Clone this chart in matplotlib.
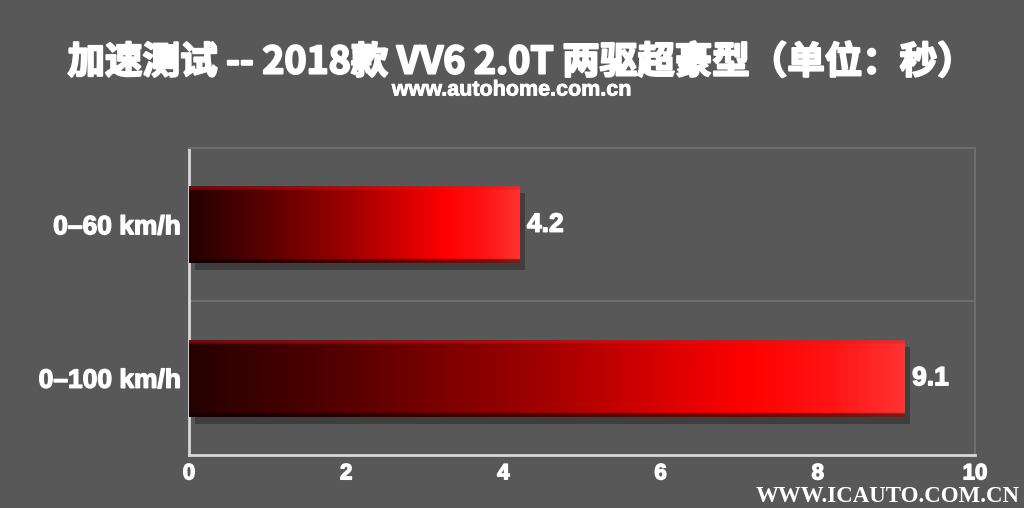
import numpy as np
import matplotlib
matplotlib.use("Agg")
import matplotlib.pyplot as plt
from matplotlib import patheffects as pe

categories = ["0–60 km/h", "0–100 km/h"]
values = [4.2, 9.1]
value_labels = ["4.2", "9.1"]
xticks = [0, 2, 4, 6, 8, 10]
title = "加速测试 -- 2018款 VV6 2.0T 两驱超豪型（单位：秒）"
subtitle = "www.autohome.com.cn"
watermark = "WWW.ICAUTO.COM.CN"

BG = "#585858"
plt.rcParams['font.family'] = ['Liberation Sans', 'DejaVu Sans']
thick = [pe.withStroke(linewidth=1.0, foreground="white")]

fig = plt.figure(figsize=(10.24, 5.08), dpi=100, facecolor=BG)
ax = fig.add_axes([189/1024, 1-455/508, (975-189)/1024, (455-148)/508])
ax.set_facecolor(BG)

pos = np.arange(len(categories))
bars = ax.barh(pos, values, height=0.5, color="#3a0000", zorder=3,
               edgecolor="none")
ax.set_ylim(len(categories)-0.5, -0.5)
ax.set_xlim(0, 10)

# gradient fill
ncol = 256
t = np.linspace(0, 1, ncol)
stops = np.array([0.0, 0.2, 0.5, 0.78, 0.9, 1.0])
rs = np.array([0.15, 0.32, 0.64, 1.0, 1.0, 1.0])
gs = np.array([0.0, 0.0, 0.0, 0.0, 0.08, 0.2])
bs = np.array([0.0, 0.0, 0.0, 0.0, 0.08, 0.2])
row = np.stack([np.interp(t, stops, rs), np.interp(t, stops, gs), np.interp(t, stops, bs)], axis=-1)
nrow = 40
img = np.repeat(row[None, :, :], nrow, axis=0)
img[:2] = np.clip(img[:2] * 0.6 + np.array([0.85, 0.1, 0.1]) * 0.4, 0, 1)
img[-2:] = img[-2:] * 0.5

for b in bars:
    x0, y0, w, h = b.get_x(), b.get_y(), b.get_width(), b.get_height()
    b.set_path_effects([pe.SimplePatchShadow(offset=(4, -5), shadow_rgbFace="#262626", alpha=0.5), pe.Normal()])
    im = ax.imshow(img, extent=[x0, x0 + w, y0 + h, y0], aspect='auto', zorder=4, interpolation='bilinear')
    im.set_clip_path(b)

for p, v, lab in zip(pos, values, value_labels):
    ax.text(v + 0.1, p, lab, color="white", fontsize=19, fontweight="bold", va="center", ha="left",
            zorder=5, path_effects=thick)

ax.set_yticks(pos)
ax.set_yticklabels(categories, color="white", fontsize=19, fontweight="bold")
ax.set_xticks(xticks)
ax.set_xticklabels([str(x) for x in xticks], color="white", fontsize=16, fontweight="bold")
for lab in ax.get_yticklabels() + ax.get_xticklabels():
    lab.set_path_effects(thick)
ax.tick_params(length=0, pad=6)
ax.set_yticks([0.5], minor=True)
ax.tick_params(which='minor', length=0)
ax.grid(True, axis='y', which='minor', color="#6e6e6e", lw=1.5, zorder=1)
for s in ['top', 'right']:
    ax.spines[s].set_color("#6e6e6e")
    ax.spines[s].set_linewidth(1.5)
for s in ['left', 'bottom']:
    ax.spines[s].set_color("#d8d8d8")
    ax.spines[s].set_linewidth(2)

fig.text(0.509, 1-62/508, title, color="white", fontsize=27, fontweight="bold",
         ha="center", va="center", family=['Noto Sans CJK SC', 'DejaVu Sans'],
         path_effects=[pe.withStroke(linewidth=1.5, foreground="white")])
fig.text(0.5, 1-90/508, subtitle, color="white", fontsize=15.5, fontweight="bold",
         ha="center", va="center", path_effects=[pe.withStroke(linewidth=0.6, foreground="white")])
fig.text(1020/1024, 1-496/508, watermark, color="white", fontsize=16.5, fontweight="bold",
         ha="right", va="center", family=['Liberation Serif', 'DejaVu Serif'])

fig.savefig("out.png", dpi=100, facecolor=BG)
